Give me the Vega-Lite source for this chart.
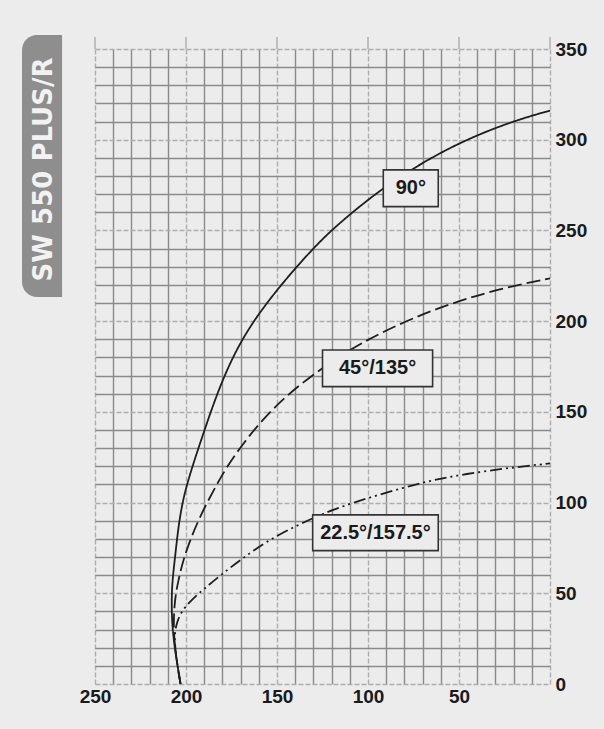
{
  "$schema": "https://vega.github.io/schema/vega-lite/v6.json",
  "width": 455,
  "height": 635,
  "autosize": {"type": "none"},
  "padding": {"left": 95, "top": 49, "right": 54, "bottom": 45},
  "background": "#ececec",
  "config": {"view": {"stroke": null}},
  "resolve": {"axis": {"x": "independent", "y": "independent"}},
  "datasets": {
    "ticks": [
      {"x": 250, "y": 350, "y2": 356.6},
      {"x": 200, "y": 350, "y2": 356.6},
      {"x": 150, "y": 350, "y2": 356.6},
      {"x": 100, "y": 350, "y2": 356.6},
      {"x": 50, "y": 350, "y2": 356.6},
      {"x": 0, "y": 350, "y2": 356.6}
    ],
    "curves": [
      {"s": "90", "x": 203, "y": 0},
      {"s": "90", "x": 205.5, "y": 15},
      {"s": "90", "x": 207.5, "y": 30},
      {"s": "90", "x": 208, "y": 45},
      {"s": "90", "x": 207.5, "y": 57},
      {"s": "90", "x": 206, "y": 70},
      {"s": "90", "x": 204.2, "y": 86.7},
      {"s": "90", "x": 201.5, "y": 103},
      {"s": "90", "x": 196.5, "y": 120},
      {"s": "90", "x": 190.5, "y": 138},
      {"s": "90", "x": 184, "y": 157},
      {"s": "90", "x": 177.6, "y": 173},
      {"s": "90", "x": 170.3, "y": 188},
      {"s": "90", "x": 161.2, "y": 202.5},
      {"s": "90", "x": 150.2, "y": 217},
      {"s": "90", "x": 137.5, "y": 232},
      {"s": "90", "x": 122.7, "y": 248},
      {"s": "90", "x": 105, "y": 263},
      {"s": "90", "x": 91.6, "y": 273.3},
      {"s": "90", "x": 77.8, "y": 282.4},
      {"s": "90", "x": 67.8, "y": 288.5},
      {"s": "90", "x": 55, "y": 295.5},
      {"s": "90", "x": 42.1, "y": 301.5},
      {"s": "90", "x": 31.2, "y": 306},
      {"s": "90", "x": 20.2, "y": 310},
      {"s": "90", "x": 9.2, "y": 313.5},
      {"s": "90", "x": 0, "y": 316},
      {"s": "45", "x": 203, "y": 0},
      {"s": "45", "x": 205.5, "y": 15},
      {"s": "45", "x": 207, "y": 30},
      {"s": "45", "x": 206.3, "y": 46},
      {"s": "45", "x": 204.2, "y": 57.3},
      {"s": "45", "x": 201.5, "y": 68.4},
      {"s": "45", "x": 197.5, "y": 80},
      {"s": "45", "x": 192, "y": 93},
      {"s": "45", "x": 185, "y": 106.5},
      {"s": "45", "x": 177.6, "y": 119.8},
      {"s": "45", "x": 168.5, "y": 132.7},
      {"s": "45", "x": 158.5, "y": 145},
      {"s": "45", "x": 146, "y": 158},
      {"s": "45", "x": 128.2, "y": 172.2},
      {"s": "45", "x": 108, "y": 185.5},
      {"s": "45", "x": 91.6, "y": 194.2},
      {"s": "45", "x": 73.3, "y": 202.5},
      {"s": "45", "x": 55, "y": 209.5},
      {"s": "45", "x": 28.5, "y": 217.7},
      {"s": "45", "x": 0, "y": 223.6},
      {"s": "22", "x": 203, "y": 0},
      {"s": "22", "x": 205.5, "y": 15},
      {"s": "22", "x": 206.5, "y": 27},
      {"s": "22", "x": 205, "y": 34},
      {"s": "22", "x": 203, "y": 39},
      {"s": "22", "x": 198, "y": 45.5},
      {"s": "22", "x": 190, "y": 52.5},
      {"s": "22", "x": 181, "y": 60},
      {"s": "22", "x": 170, "y": 68.5},
      {"s": "22", "x": 156, "y": 78.5},
      {"s": "22", "x": 139, "y": 87.5},
      {"s": "22", "x": 124.5, "y": 94},
      {"s": "22", "x": 110, "y": 99.5},
      {"s": "22", "x": 79, "y": 108.8},
      {"s": "22", "x": 60, "y": 113.4},
      {"s": "22", "x": 38.5, "y": 117},
      {"s": "22", "x": 18, "y": 119.6},
      {"s": "22", "x": 0, "y": 121.6}
    ],
    "boxes": [
      {"label": "90°", "x": 91.6, "x2": 61.4, "y": 283.4, "y2": 263.1, "cx": 76.5, "cy": 273.25},
      {"label": "45°/135°", "x": 125, "x2": 64.5, "y": 184.1, "y2": 163.9, "cx": 94.75, "cy": 174},
      {"label": "22.5°/157.5°", "x": 130.4, "x2": 61.4, "y": 93.2, "y2": 73.5, "cx": 95.9, "cy": 83.35}
    ],
    "title": [
      {"label": "SW 550 PLUS/R", "x": 290.1, "x2": 268.1, "y": 357.7, "y2": 213.3, "cx": 278, "cy": 283.6}
    ]
  },
  "layer": [
    {
      "data": {"name": "ticks"},
      "mark": {"type": "rule", "color": "#adadad", "strokeWidth": 1.4},
      "encoding": {
        "x": {
          "field": "x", "type": "quantitative",
          "scale": {"domain": [0, 250], "reverse": true, "nice": false, "zero": false},
          "axis": {
            "orient": "bottom",
            "values": [0,10,20,30,40,50,60,70,80,90,100,110,120,130,140,150,160,170,180,190,200,210,220,230,240,250],
            "grid": true,
            "gridColor": {"condition": {"test": "datum.value % 50 === 0", "value": "#adadad"}, "value": "#8a8a8a"},
            "gridDash": {"condition": {"test": "datum.value % 50 === 0", "value": [5, 2]}, "value": []},
            "gridWidth": 1.4,
            "labelExpr": "datum.value % 50 === 0 && datum.value > 0 ? datum.label : ''",
            "labelFlush": false,
            "labelOverlap": false,
            "labelFont": "Liberation Sans",
            "labelFontSize": 19,
            "labelFontWeight": "bold",
            "labelColor": "#1a1a1a",
            "labelPadding": 3,
            "ticks": false,
            "domain": false,
            "title": null
          }
        },
        "y": {
          "field": "y", "type": "quantitative",
          "scale": {"domain": [0, 350], "nice": false, "zero": false},
          "axis": {
            "orient": "right",
            "values": [0,10,20,30,40,50,60,70,80,90,100,110,120,130,140,150,160,170,180,190,200,210,220,230,240,250,260,270,280,290,300,310,320,330,340,350],
            "grid": true,
            "gridColor": {"condition": {"test": "datum.value % 50 === 0", "value": "#adadad"}, "value": "#8a8a8a"},
            "gridDash": {"condition": {"test": "datum.value % 50 === 0", "value": [5, 2]}, "value": []},
            "gridWidth": 1.4,
            "labelExpr": "datum.value % 50 === 0 ? datum.label : ''",
            "labelFlush": false,
            "labelOverlap": false,
            "labelFont": "Liberation Sans",
            "labelFontSize": 19,
            "labelFontWeight": "bold",
            "labelColor": "#1a1a1a",
            "labelPadding": 5,
            "ticks": false,
            "domain": false,
            "title": null
          }
        },
        "y2": {"field": "y2"}
      }
    },
    {
      "data": {"name": "curves"},
      "mark": {"type": "line", "interpolate": "basis", "color": "#1e1e1e", "strokeWidth": 1.8},
      "encoding": {
        "x": {"field": "x", "type": "quantitative", "axis": null},
        "y": {"field": "y", "type": "quantitative", "axis": null},
        "order": {"field": "y", "type": "quantitative"},
        "detail": {"field": "s"},
        "strokeDash": {
          "field": "s", "type": "nominal",
          "scale": {"domain": ["90", "45", "22"], "range": [[1, 0], [14, 5], [12, 4, 2, 4, 2, 4]]},
          "legend": null
        }
      }
    },
    {
      "data": {"name": "boxes"},
      "mark": {"type": "rect", "fill": "#ececec", "stroke": "#333333", "strokeWidth": 1.6},
      "encoding": {
        "x": {"field": "x", "type": "quantitative", "axis": null},
        "x2": {"field": "x2"},
        "y": {"field": "y", "type": "quantitative", "axis": null},
        "y2": {"field": "y2"}
      }
    },
    {
      "data": {"name": "boxes"},
      "mark": {"type": "text", "font": "Liberation Sans", "fontSize": 20, "fontWeight": "bold", "color": "#1a1a1a", "align": "center", "baseline": "middle"},
      "encoding": {
        "x": {"field": "cx", "type": "quantitative", "axis": null},
        "y": {"field": "cy", "type": "quantitative", "axis": null},
        "text": {"field": "label"}
      }
    },
    {
      "data": {"name": "title"},
      "mark": {"type": "rect", "fill": "#8e8e8e", "cornerRadiusTopLeft": 15, "cornerRadiusBottomLeft": 15},
      "encoding": {
        "x": {"field": "x", "type": "quantitative", "axis": null},
        "x2": {"field": "x2"},
        "y": {"field": "y", "type": "quantitative", "axis": null},
        "y2": {"field": "y2"}
      }
    },
    {
      "data": {"name": "title"},
      "mark": {"type": "text", "font": "DejaVu Sans", "fontSize": 26, "fontWeight": "bold", "color": "#f2f2f2", "angle": 270, "align": "center", "baseline": "middle"},
      "encoding": {
        "x": {"field": "cx", "type": "quantitative", "axis": null},
        "y": {"field": "cy", "type": "quantitative", "axis": null},
        "text": {"field": "label"}
      }
    }
  ]
}
